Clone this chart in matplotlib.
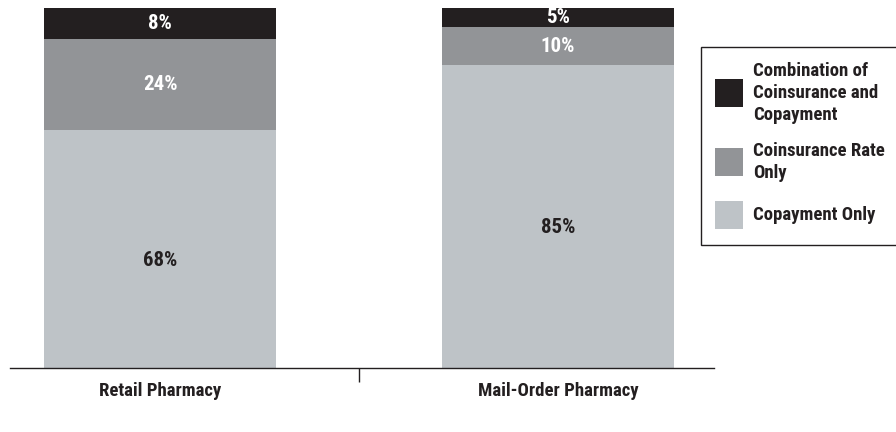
import matplotlib
matplotlib.use("Agg")
import matplotlib.pyplot as plt
from matplotlib.patches import Rectangle
from matplotlib import font_manager as fm
import numpy as np

categories = ["Retail Pharmacy", "Mail-Order Pharmacy"]
series_names = ["Copayment Only", "Coinsurance Rate\nOnly", "Combination of\nCoinsurance and\nCopayment"]
copay = [68, 85]
coins = [24, 10]
combo = [8, 5]
series_values = [copay, coins, combo]
colors = ["#bec3c7", "#929497", "#231f20"]
label_colors = ["#231f20", "white", "white"]

available = {f.name for f in fm.fontManager.ttflist}
preferred = ["Roboto Condensed", "Archivo Narrow", "PT Sans Narrow", "Liberation Sans Narrow",
             "Fira Sans Condensed", "IBM Plex Sans Condensed", "Barlow Semi Condensed",
             "Encode Sans Condensed", "Liberation Sans"]
chosen = next((f for f in preferred if f in available), "DejaVu Sans")
FONT = [chosen, "DejaVu Sans"]
plt.rcParams["font.family"] = FONT

W, H = 896, 432
fig = plt.figure(figsize=(W / 100, H / 100), dpi=100)
ax = fig.add_axes([10 / W, (H - 368) / H, (714 - 10) / W, 360 / H])

x = np.arange(len(categories))
bottom = np.zeros(len(categories))
for vals, col, lc in zip(series_values, colors, label_colors):
    vals = np.array(vals, dtype=float)
    ax.bar(x, vals, width=0.583, bottom=bottom, color=col, edgecolor="none", zorder=2)
    for xi, b, v in zip(x, bottom, vals):
        ax.text(xi, b + v / 2, f"{int(v)}%", ha="center", va="center",
                color=lc, fontsize=15, fontweight="bold", zorder=3)
    bottom += vals

ax.set_xlim(-0.377, 1.392)
ax.set_ylim(5.8, 100)
for s in ["top", "right", "left"]:
    ax.spines[s].set_visible(False)
ax.spines["bottom"].set_linewidth(1.0)
ax.spines["bottom"].set_color("#231f20")
ax.set_yticks([])
ax.set_xticks([0.5])
ax.set_xticklabels([""])
ax.tick_params(axis="x", length=10, width=1.0, color="#231f20", direction="out")
for xi, c in zip(x, categories):
    ax.annotate(c, (xi, 0), xycoords=("data", "axes fraction"), xytext=(0, -16.5),
                textcoords="offset points", ha="center", va="center",
                fontsize=13.5, fontweight="bold", color="#231f20")

# Legend (manual)
def fx(px):
    return px / W

def fy(py):
    return (H - py) / H

fig.patches.append(Rectangle((fx(701), fy(245)), fx(905) - fx(701), fy(47) - fy(245),
                             transform=fig.transFigure, facecolor="white",
                             edgecolor="#231f20", linewidth=1.0, zorder=5))
leg_items = [
    (colors[2], series_names[2], 93),
    (colors[1], series_names[1], 162),
    (colors[0], series_names[0], 215),
]
for col, name, cy in leg_items:
    fig.patches.append(Rectangle((fx(715), fy(cy + 14)), fx(28), 28 / H,
                                 transform=fig.transFigure, facecolor=col,
                                 edgecolor="none", zorder=6))
    fig.text(fx(753), fy(cy), name, ha="left", va="center", fontsize=13.5,
             fontweight="bold", color="#231f20", linespacing=1.32, zorder=7)

fig.savefig("out.png", dpi=100)
